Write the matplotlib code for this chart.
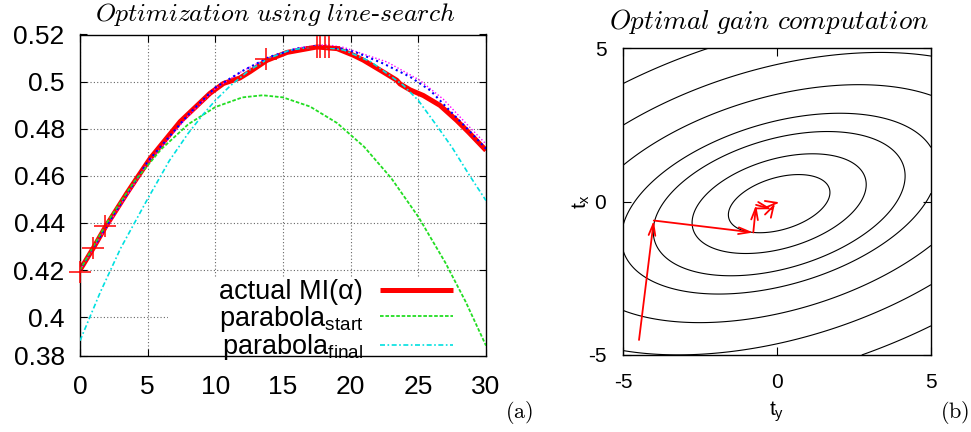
import numpy as np
import matplotlib
matplotlib.use('Agg')
import matplotlib.pyplot as plt
from matplotlib.patches import Rectangle

plt.rcParams['font.family'] = ['Liberation Sans', 'DejaVu Sans']
plt.rcParams['mathtext.default'] = 'regular'
plt.rcParams['axes.unicode_minus'] = False

# ---------------- left panel data ----------------
x_ticks_left = [0, 5, 10, 15, 20, 25, 30]
y_tick_vals = [0.3835, 0.40, 0.42, 0.44, 0.46, 0.48, 0.50, 0.52]
y_tick_labels = ['0.38', '0.4', '0.42', '0.44', '0.46', '0.48', '0.5', '0.52']

alpha_actual = [0, 1.0, 1.85, 3.45, 4.2, 5.2, 7.4, 9.6, 10.6, 11.8, 12.56, 13.8, 15.3,
                17.5, 19.0, 20.2, 20.94, 22.4, 23.4, 23.65, 24.39, 25.37, 26.6, 27.84,
                28.7, 30]
mi_actual = [0.420, 0.4295, 0.438, 0.4525, 0.459, 0.4675, 0.4830, 0.4950, 0.4992, 0.5015,
             0.5042, 0.5090, 0.5124, 0.5147, 0.5140, 0.5112, 0.5091, 0.5041, 0.5006,
             0.4990, 0.4965, 0.4941, 0.4899, 0.4835, 0.4786, 0.4708]

alpha_blue = [0, 2, 5, 8, 10, 12, 14, 16, 17.6, 19.2, 20.5, 22.4, 24.4, 25.9, 26.85, 28.7, 30]
mi_blue = [0.420, 0.439, 0.466, 0.486, 0.4975, 0.5045, 0.5105, 0.5140, 0.5152, 0.5142,
           0.5122, 0.5077, 0.5020, 0.4962, 0.4905, 0.4795, 0.4715]

alpha_magenta = [0, 2, 5, 8, 10, 12, 14, 16, 18.2, 19.5, 22.7, 25.1, 26.85, 28.7, 30]
mi_magenta = [0.420, 0.4385, 0.4655, 0.4855, 0.4970, 0.5045, 0.5103, 0.5142, 0.5157,
              0.5145, 0.5083, 0.5006, 0.4925, 0.4812, 0.4735]

alpha_start = [0, 2, 4, 6, 8, 10, 12, 13.5, 15, 17, 19, 21, 23, 25, 27, 28.5, 30]
mi_start = [0.420, 0.4402, 0.4575, 0.4713, 0.4819, 0.4892, 0.4933, 0.4942, 0.4933, 0.4894,
            0.4824, 0.4723, 0.4590, 0.4426, 0.4231, 0.4065, 0.3879]

alpha_final = [0, 1.5, 3.0, 4.93, 6.6, 8.0, 9.1, 10.0, 11.1, 12.5, 14.0, 15.5, 17.5, 19.5,
               21.5, 23.9, 25.0, 26.4, 27.5, 28.8, 30]
mi_final = [0.390, 0.4106, 0.4292, 0.4495, 0.4664, 0.4781, 0.4861, 0.4920, 0.4982, 0.5048,
            0.5100, 0.5134, 0.5150, 0.5134, 0.5084, 0.4984, 0.4920, 0.4810, 0.4720, 0.4600,
            0.4495]

alpha_search = [0, 0.98, 1.85, 13.75, 17.49, 17.74, 18.11, 18.43]
mi_search = [0.4193, 0.4292, 0.4389, 0.5094, 0.5147, 0.5147, 0.5147, 0.5147]

legend_labels = ['actual MI(\u03b1)', 'parabola$_{\\mathregular{start}}$',
                 'parabola$_{\\mathregular{final}}$']

# ---------------- right panel data ----------------
right_ticks = [-5, 0, 5]
# contour field parameters (tilted quadratic bowl)
bowl_center = (0.07, -0.07)
bowl_a, bowl_b, bowl_c = 0.33, -0.22, 1.0
contour_levels = [0.875, 1.5, 2.17, 2.72, 3.58, 4.55, 5.7]
# gain-computation path (t_y, t_x)
path_ty = [-4.48, -4.0, -0.77, -0.68, -0.17, -0.06, 0.10]
path_tx = [-4.51, -0.62, -1.01, -0.11, -0.25, -0.05, -0.03]

# ---------------- figure ----------------
W, H = 971, 432
fig = plt.figure(figsize=(W / 100, H / 100), dpi=100)

ax1 = fig.add_axes([80 / W, 1 - 356 / H, 406 / W, 321.5 / H])
ax1.set_xlim(0, 30)
ax1.set_ylim(y_tick_vals[0], 0.52)
ax1.set_xticks(x_ticks_left)
ax1.set_yticks(y_tick_vals)
ax1.set_yticklabels(y_tick_labels)
ax1.tick_params(direction='in', length=5, width=0.8, top=True, right=True,
                labelsize=19, colors='black')
ax1.tick_params(axis='x', pad=14)
ax1.tick_params(axis='y', pad=11)
ax1.set_axisbelow(True)
ax1.grid(True, color='#666666', linestyle=(0, (1, 2)), linewidth=0.8)
for s in ax1.spines.values():
    s.set_linewidth(1.0)

# white key background that hides the grid
ax1.add_patch(Rectangle((0.217, 0.0), 0.783, 0.243, transform=ax1.transAxes,
                        facecolor='white', edgecolor='none', zorder=1))

l_act, = ax1.plot(alpha_actual, mi_actual, color='#ff0000', lw=3.6, zorder=2,
                  solid_capstyle='butt', solid_joinstyle='round')
ax1.plot(alpha_magenta, mi_magenta, color='#ff00ff', lw=1.0, dashes=(1, 1.5), zorder=3)
ax1.plot(alpha_blue, mi_blue, color='#0000ff', lw=1.5, dashes=(1, 1.6), zorder=3)
l_start, = ax1.plot(alpha_start, mi_start, color='#22dd22', lw=1.3, dashes=(2, 1), zorder=3)
l_final, = ax1.plot(alpha_final, mi_final, color='#00e0e0', lw=1.2,
                    dashes=(3, 1.5, 1, 1.5), zorder=3)
ax1.plot(alpha_search, mi_search, linestyle='none', marker='+', markersize=16,
         markeredgewidth=1.1, color='#ff0000', zorder=4, clip_on=False)

leg = ax1.legend([l_act, l_start, l_final], legend_labels, loc='lower right',
                 bbox_to_anchor=(0.9187, -0.02), frameon=False, markerfirst=False,
                 handlelength=2.7, handletextpad=0.62, labelspacing=-0.05,
                 borderaxespad=0, borderpad=0, fontsize=19.5)
leg.set_zorder(5)

fig.text(275 / W, 1 - 21 / H,
         r'$\mathit{Optimization\ using\ line}$-$\mathit{search}$',
         ha='center', va='baseline', fontsize=18.5, math_fontfamily='cm',
         family='Liberation Serif', style='italic')
fig.text(505 / W, 1 - 413 / H, r'$\mathrm{(a)}$', ha='left', va='center',
         fontsize=16, math_fontfamily='cm')

# ---------------- right panel ----------------
ax2 = fig.add_axes([623 / W, 1 - 355 / H, 308 / W, 307 / H])
gy = np.linspace(-5, 5, 301)
gx = np.linspace(-5, 5, 301)
TY, TX = np.meshgrid(gy, gx, indexing='xy')
dx = TY - bowl_center[0]
dy = TX - bowl_center[1]
field = np.sqrt(bowl_a * dx ** 2 + 2 * bowl_b * dx * dy + bowl_c * dy ** 2)
ax2.contour(TY, TX, field, levels=contour_levels, colors='black', linewidths=0.8)

for i in range(len(path_ty) - 1):
    ax2.annotate('', xy=(path_ty[i + 1], path_tx[i + 1]), xytext=(path_ty[i], path_tx[i]),
                 arrowprops=dict(arrowstyle='->,head_length=0.7,head_width=0.2',
                                 color='#ff0000', lw=1.3, shrinkA=0, shrinkB=0,
                                 mutation_scale=12))

ax2.set_xlim(-5, 5)
ax2.set_ylim(-5, 5)
ax2.set_xticks(right_ticks)
ax2.set_yticks(right_ticks)
ax2.tick_params(direction='in', length=6, width=0.8, top=True, right=True,
                labelsize=15, colors='black')
ax2.tick_params(axis='x', pad=13)
ax2.tick_params(axis='y', pad=12)
for s in ax2.spines.values():
    s.set_linewidth(1.0)
ax2.set_xlabel('t$_{\\mathregular{y}}$', fontsize=15, labelpad=5)
ax2.set_ylabel('t$_{\\mathregular{x}}$', fontsize=15, labelpad=-3)

fig.text(769 / W, 1 - 29 / H, r'$\mathit{Optimal\ gain\ computation}$',
         ha='center', va='baseline', fontsize=19.5, math_fontfamily='cm')
fig.text(940 / W, 1 - 413 / H, r'$\mathrm{(b)}$', ha='left', va='center',
         fontsize=16, math_fontfamily='cm')

fig.savefig('out.png', dpi=100)
